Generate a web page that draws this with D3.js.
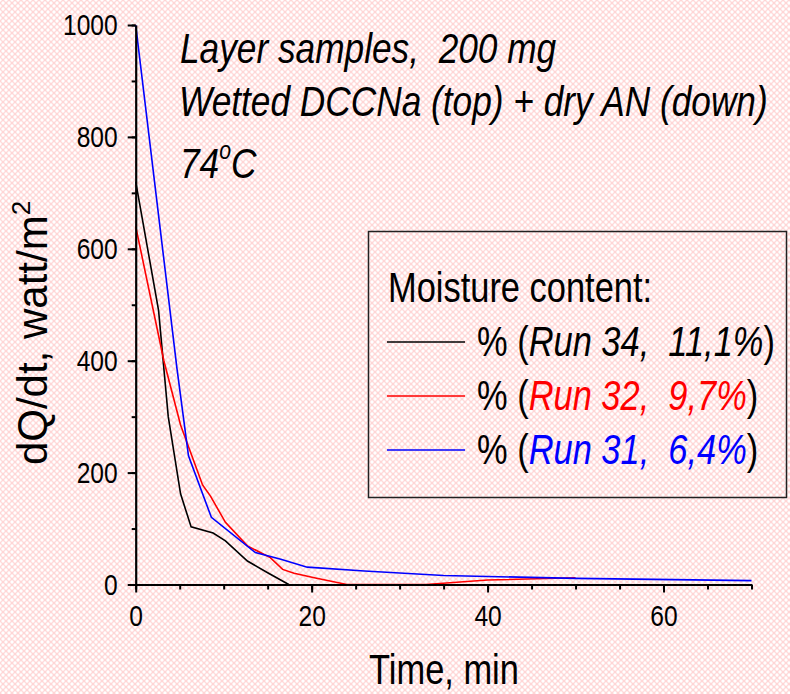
<!DOCTYPE html>
<html>
<head>
<meta charset="utf-8">
<script src="https://cdn.jsdelivr.net/npm/d3@7"></script>
<style>
  html, body { margin: 0; padding: 0; background: #fff; }
  svg { display: block; }
  text { font-family: "Liberation Sans", Arial, sans-serif; }
</style>
</head>
<body>
<div id="chart"></div>
<script>
// Data: [time, min ; dQ/dt, watt/m2]
const run34 = [[0, 720], [2.6, 490], [3.7, 300], [5.1, 162], [6.3, 103], [8.8, 92], [10.2, 78], [12.7, 42], [15, 21], [17.4, 0]];
const run32 = [[0, 640], [3.2, 400], [5.1, 285], [7.6, 178], [8.5, 158], [10.2, 111], [12.7, 69], [15.3, 48], [16.7, 27], [18, 20], [20.3, 12], [24, 0], [33, 0], [40, 8], [50, 12]];
const run31 = [[0, 1000], [4.7, 385], [6, 230], [8.6, 120], [13.6, 57], [16.5, 45], [19.5, 31], [26, 24], [35, 16], [50, 11], [70, 7]];
const seriesNames = ["Run 34, 11,1%", "Run 32, 9,7%", "Run 31, 6,4%"];
const seriesData = [run34, run32, run31];
const xTicks = [0, 20, 40, 60];
const xMinorTicks = d3.range(0, 71, 5);
const yTicks = [0, 200, 400, 600, 800, 1000];
const yMinorTicks = d3.range(0, 1001, 100);

function draw() {
  const width = 790;
  const height = 694;
  const squeeze = 0.82; // narrow face like Arial Narrow

  const color = d3.scaleOrdinal().domain(seriesNames).range(["#000000", "#ff0000", "#0000ff"]);

  const svg = d3.select("#chart")
    .append("svg")
    .attr("width", width)
    .attr("height", height);

  // Background pattern
  const pat = svg.append("defs").append("pattern")
    .attr("id", "bg")
    .attr("width", 6)
    .attr("height", 6)
    .attr("patternUnits", "userSpaceOnUse");
  pat.append("rect").attr("width", 6).attr("height", 6).attr("fill", "#ffd6d6");
  pat.selectAll("circle")
    .data([[0, 0], [6, 0], [0, 6], [6, 6], [3, 3]])
    .join("circle")
    .attr("cx", (d) => d[0])
    .attr("cy", (d) => d[1])
    .attr("r", 1.7)
    .attr("fill", "#ffffff");
  svg.append("rect").attr("width", width).attr("height", height).attr("fill", "url(#bg)");

  // Scales
  const x = d3.scaleLinear().domain([0, 70]).range([135.7, 751.5]);
  const y = d3.scaleLinear().domain([0, 1000]).range([584.5, 25]);

  // narrow text helper
  function narrow(parent, px, py, size, rotate, sx) {
    return parent.append("text")
      .attr("transform", `translate(${px},${py}) rotate(${rotate || 0}) scale(${sx || squeeze},1)`)
      .style("font-size", size + "px")
      .attr("fill", "#000");
  }

  // Minor ticks
  svg.append("g")
    .attr("transform", `translate(0,${y(0)})`)
    .call(d3.axisBottom(x).tickValues(xMinorTicks).tickSize(5).tickFormat("").tickSizeOuter(0))
    .call((g) => g.select(".domain").remove())
    .selectAll("line").attr("stroke-width", 2);
  svg.append("g")
    .attr("transform", `translate(${x(0)},0)`)
    .call(d3.axisLeft(y).tickValues(yMinorTicks).tickSize(4).tickFormat("").tickSizeOuter(0))
    .call((g) => g.select(".domain").remove())
    .selectAll("line").attr("stroke-width", 2);

  // Lines
  const line = d3.line().x((d) => x(d[0])).y((d) => y(d[1]));
  svg.append("g")
    .selectAll("path")
    .data(seriesData)
    .join("path")
    .attr("d", line)
    .attr("fill", "none")
    .attr("stroke", (d, i) => color(seriesNames[i]))
    .attr("stroke-width", 1.6);

  // Major axes
  const xAxis = svg.append("g")
    .attr("transform", `translate(0,${y(0)})`)
    .call(d3.axisBottom(x).tickValues(xTicks).tickSize(8).tickPadding(12).tickSizeOuter(0).tickFormat(d3.format("d")));
  const yAxis = svg.append("g")
    .attr("transform", `translate(${x(0)},0)`)
    .call(d3.axisLeft(y).tickValues(yTicks).tickSize(8).tickPadding(10).tickSizeOuter(0).tickFormat(d3.format("d")));

  [xAxis, yAxis].forEach((ax) => {
    ax.select(".domain").attr("stroke-width", 2.2);
    ax.selectAll("line").attr("stroke-width", 2);
    ax.selectAll("text")
      .style("font-size", "30px")
      .style("font-family", '"Liberation Sans", Arial, sans-serif')
      .attr("fill", "#000")
      .attr("textLength", function () { return this.textContent.length * 0.556 * 30 * squeeze; })
      .attr("lengthAdjust", "spacingAndGlyphs");
  });

  // Axis titles
  narrow(svg, 444, 684, 42).attr("text-anchor", "middle").text("Time, min");
  const yt = narrow(svg, 47, 333, 42, -90, 1).attr("text-anchor", "middle");
  yt.append("tspan").text("dQ/dt, watt/m");
  yt.append("tspan").style("font-size", "26px").attr("dy", -17).text("2");

  // Annotations
  narrow(svg, 180, 63, 43).attr("font-style", "italic").text("Layer samples,\u00a0\u00a0200 mg");
  narrow(svg, 179, 116, 43).attr("font-style", "italic").text("Wetted DCCNa (top) + dry AN (down)");
  const temp = narrow(svg, 180, 178, 43).attr("font-style", "italic");
  temp.append("tspan").text("74");
  temp.append("tspan").style("font-size", "26px").attr("dy", -19).text("o");
  temp.append("tspan").attr("dy", 19).text("C");

  // Legend
  const legend = svg.append("g");
  legend.append("rect")
    .attr("x", 368.5)
    .attr("y", 231.5)
    .attr("width", 418)
    .attr("height", 266)
    .attr("fill", "none")
    .attr("stroke", "#222")
    .attr("stroke-width", 1.5);
  narrow(legend, 388, 302, 42).text("Moisture content:");

  const rowY = d3.scalePoint().domain(seriesNames).range([342, 450]);
  seriesNames.forEach((name) => {
    legend.append("line")
      .attr("x1", 387)
      .attr("x2", 465)
      .attr("y1", rowY(name))
      .attr("y2", rowY(name))
      .attr("stroke", color(name))
      .attr("stroke-width", 1.5);
    const t = narrow(legend, 477, rowY(name) + 13.5, 42);
    t.append("tspan").text("% (");
    t.append("tspan").attr("font-style", "italic").attr("fill", color(name)).text(name.replace(", ", ",\u00a0\u00a0"));
    t.append("tspan").text(")");
  });
}

draw();
</script>
</body>
</html>
